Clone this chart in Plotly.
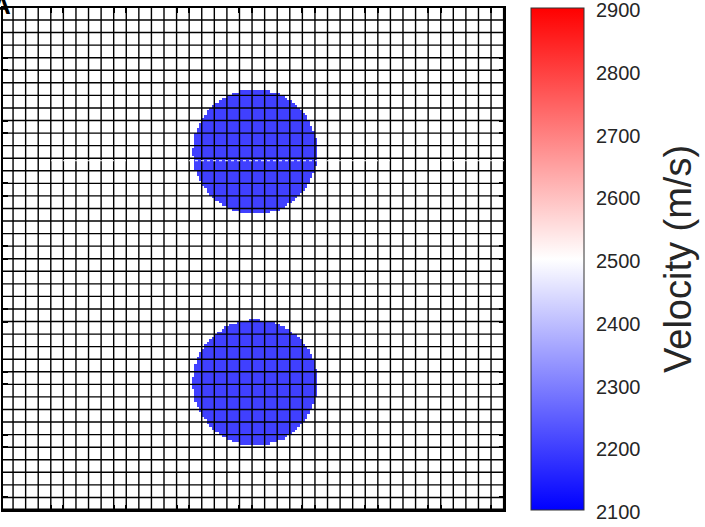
import numpy as np
import plotly.graph_objects as go

# Model mesh: grid lines at integer cell indices, axis limits in cell units
mesh_lines_x = list(range(0, 40))
mesh_lines_y = list(range(0, 40))
x_limits = [-0.8, 39.03]
y_limits = [39.0, -0.955]          # depth increases downward
tick_positions = [3, 4, 8, 9, 13, 14, 18, 19, 23, 24, 28, 29, 33, 34, 38, 39]

# Velocity model: homogeneous background with two circular low-velocity bodies
background_velocity = 2500
anomaly_velocity = 2200
anomaly_centres_x = [19.25, 19.25]
anomaly_centres_y = [10.5, 28.86]
anomaly_radii = [4.96, 4.98]
sample_step = 0.2                  # fine sampling of the model within each cell

colorbar_ticks = [2100, 2200, 2300, 2400, 2500, 2600, 2700, 2800, 2900]
velocity_limits = [2100, 2900]

# Build the sampled velocity field
xs = np.arange(-1.0, 39.4, sample_step) + sample_step / 2
ys = np.arange(-1.2, 39.4, sample_step) + sample_step / 2
X, Y = np.meshgrid(xs, ys)
vel = np.full(X.shape, float(background_velocity))
for cx, cy, r in zip(anomaly_centres_x, anomaly_centres_y, anomaly_radii):
    vel[(X - cx) ** 2 + (Y - cy) ** 2 <= r ** 2] = anomaly_velocity

# Colour bar placement (pixels)
plot_left, plot_right, plot_top, plot_bottom = 3, 504, 8, 510
plot_w = plot_right - plot_left
plot_h = plot_bottom - plot_top
cbar_left, cbar_width = 531, 53
label_font = dict(family="Liberation Sans, Arial, sans-serif", size=20, color="#262626")

fig = go.Figure()

fig.add_trace(go.Heatmap(
    x=xs, y=ys, z=vel,
    zmin=velocity_limits[0], zmax=velocity_limits[1],
    colorscale=[[0.0, "rgb(0,0,255)"], [0.5, "rgb(255,255,255)"], [1.0, "rgb(255,0,0)"]],
    hoverinfo="skip",
    colorbar=dict(
        x=(cbar_left - plot_left) / plot_w, xanchor="left", xpad=0,
        y=0.5, yanchor="middle", ypad=0,
        len=plot_h, lenmode="pixels",
        thickness=cbar_width, thicknessmode="pixels",
        outlinewidth=1, outlinecolor="#333333",
        showticklabels=False, ticks="",
    ),
))

# Mesh lines drawn on top of the model
gx, gy = [], []
for xv in mesh_lines_x:
    gx += [xv, xv, None]
    gy += [y_limits[1], y_limits[0], None]
for yv in mesh_lines_y:
    gx += [x_limits[0], x_limits[1], None]
    gy += [yv, yv, None]
fig.add_trace(go.Scatter(
    x=gx, y=gy, mode="lines",
    line=dict(color="black", width=1.4),
    hoverinfo="skip", showlegend=False,
))

axis_style = dict(
    showgrid=False, zeroline=False,
    showline=True, linecolor="black", linewidth=1.5, mirror="ticks",
    ticks="inside", ticklen=5, tickwidth=2, tickcolor="black",
    tickvals=tick_positions, showticklabels=False,
    layer="above traces",
)

shapes = [
    dict(type="line", xref="paper", yref="paper", x0=0, x1=1, y0=0, y1=0,
         line=dict(color="black", width=3), layer="above"),
    dict(type="line", xref="paper", yref="y", x0=0, x1=1, y0=11.2, y1=11.2,
         line=dict(color="white", width=1, dash="dot"), layer="above"),
]
annotations = []
# Colour bar tick marks (inside, right edge) and their labels
cbar_right_paper = (cbar_left + cbar_width - plot_left) / plot_w
for v in colorbar_ticks:
    yp = (v - velocity_limits[0]) / (velocity_limits[1] - velocity_limits[0])
    if velocity_limits[0] < v < velocity_limits[1]:
        shapes.append(dict(type="line", xref="paper", yref="paper",
                           x0=cbar_right_paper - 4 / plot_w, x1=cbar_right_paper, y0=yp, y1=yp,
                           line=dict(color="#333333", width=1), layer="above"))
    annotations.append(dict(text=str(v), xref="paper", yref="paper",
                            x=(594 - plot_left) / plot_w, y=yp - 2 / plot_h,
                            xanchor="left", yanchor="middle", showarrow=False,
                            font=label_font))

annotations += [
    dict(text="Velocity (m/s)", xref="paper", yref="paper",
         x=(678 - plot_left) / plot_w, y=(plot_bottom - 259) / plot_h,
         xanchor="center", yanchor="middle", textangle=-90, showarrow=False,
         font=dict(family="Liberation Sans, Arial, sans-serif", size=38, color="#262626")),
    dict(text="<b>A</b>", xref="paper", yref="paper",
         x=-2 / plot_w, y=1 + 20 / plot_h, xanchor="center", yanchor="top", showarrow=False,
         font=dict(family="Liberation Sans, Arial, sans-serif", size=26, color="black")),
]

fig.update_layout(
    width=705, height=527,
    margin=dict(l=plot_left, r=705 - plot_right, t=plot_top, b=527 - plot_bottom),
    paper_bgcolor="white", plot_bgcolor="white",
    showlegend=False,
    xaxis=dict(range=x_limits, **axis_style),
    yaxis=dict(range=y_limits, **axis_style),
    shapes=shapes,
    annotations=annotations,
)

fig.write_html("out.html")
